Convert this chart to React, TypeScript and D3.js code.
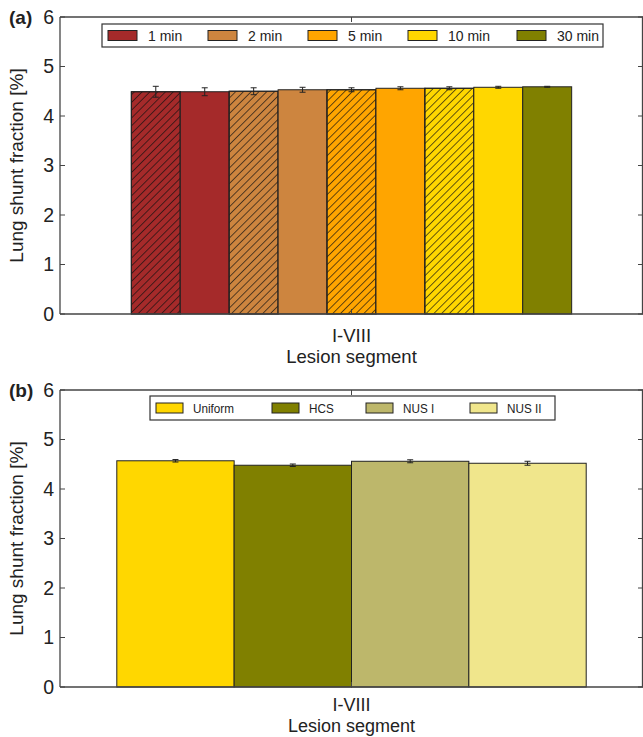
import React from "react";
import * as d3 from "d3";

// ---------- data ----------
const category = "I-VIII";
const yTicks = [0, 1, 2, 3, 4, 5, 6];

// panel (a)
const timeLabels = ["1 min", "2 min", "5 min", "10 min", "30 min"];
const timeColors = ["#A52A2A", "#CD853F", "#FFA500", "#FFD700", "#808000"];
const aSeries = ["1 min", "1 min", "2 min", "2 min", "5 min", "5 min", "10 min", "10 min", "30 min"];
const aHatched = [true, false, true, false, true, false, true, false, false];
const aValues = [4.49, 4.49, 4.5, 4.53, 4.53, 4.56, 4.56, 4.58, 4.59];
const aErrors = [0.11, 0.08, 0.07, 0.05, 0.04, 0.03, 0.03, 0.02, 0.01];

// panel (b)
const distLabels = ["Uniform", "HCS", "NUS I", "NUS II"];
const distColors = ["#FFD700", "#808000", "#BDB76B", "#F0E68C"];
const bValues = [4.57, 4.48, 4.56, 4.52];
const bErrors = [0.025, 0.025, 0.03, 0.04];

// ---------- layout ----------
const W = 643;
const H = 737;
const LEFT = 60;
const RIGHT = 643;
const FONT = "Liberation Sans, Arial, Helvetica, sans-serif";
const AXIS = "#444";
const TXT = "#222";

type PanelProps = {
  tag: string;
  top: number;
  bottom: number;
  outerPad: number;
  colors: string[];
  hatched: boolean[];
  values: number[];
  errors: number[];
  legendLabels: string[];
  legendColors: string[];
  legendBox: [number, number, number, number];
  legendX: number[];
  patchW: number;
  textOff: number;
  legendFont: number;
  legendStretch: boolean;
  tickOff: number;
  titleOff: number;
  xFont: number;
};

function Panel(p: PanelProps) {
  const y = d3.scaleLinear().domain([0, 6]).range([p.bottom, p.top]);
  const x0 = d3
    .scaleBand<string>()
    .domain([category])
    .range([LEFT, RIGHT])
    .paddingInner(0)
    .paddingOuter(p.outerPad);
  const idx = p.values.map((_, i) => String(i));
  const x1 = d3
    .scaleBand<string>()
    .domain(idx)
    .range([x0(category)!, x0(category)! + x0.bandwidth()]);
  const cx = x0(category)! + x0.bandwidth() / 2;
  const [lx0, ly0, lx1, ly1] = p.legendBox;
  const lyMid = (ly0 + ly1) / 2;
  const midY = (p.top + p.bottom) / 2;

  return (
    <g>
      {p.values.map((v, i) => {
        const bx = x1(String(i))!;
        const bw = x1.bandwidth();
        return (
          <g key={i}>
            <rect x={bx} y={y(v)} width={bw} height={y(0) - y(v)} fill={p.colors[i]} stroke="#222" strokeWidth={1} />
            {p.hatched[i] && (
              <rect x={bx} y={y(v)} width={bw} height={y(0) - y(v)} fill="url(#hatch)" stroke="#222" strokeWidth={1} />
            )}
          </g>
        );
      })}
      {p.values.map((v, i) => {
        const ex = x1(String(i))! + x1.bandwidth() / 2;
        const e = p.errors[i];
        return (
          <g key={"e" + i} stroke="#222" strokeWidth={1}>
            <line x1={ex} x2={ex} y1={y(v + e)} y2={y(v - e)} />
            <line x1={ex - 3} x2={ex + 3} y1={y(v + e)} y2={y(v + e)} />
            <line x1={ex - 3} x2={ex + 3} y1={y(v - e)} y2={y(v - e)} />
          </g>
        );
      })}
      <g stroke={AXIS} strokeWidth={1.3} fill="none">
        <line x1={LEFT} x2={LEFT} y1={p.top} y2={p.bottom} />
        <line x1={LEFT} x2={RIGHT} y1={p.top} y2={p.top} />
        <line x1={LEFT} x2={RIGHT} y1={p.bottom} y2={p.bottom} />
        <line x1={RIGHT - 0.5} x2={RIGHT - 0.5} y1={p.top} y2={p.bottom} />
      </g>
      {yTicks.map((t) => (
        <g key={t}>
          <line x1={LEFT} x2={LEFT + 5} y1={y(t)} y2={y(t)} stroke={AXIS} strokeWidth={1} />
          <line x1={RIGHT - 5} x2={RIGHT} y1={y(t)} y2={y(t)} stroke={AXIS} strokeWidth={1} />
          <text x={LEFT - 6} y={y(t)} dy="0.35em" textAnchor="end" fontSize={19.5} fontFamily={FONT} fill={TXT}>
            {t}
          </text>
        </g>
      ))}
      <line x1={cx} x2={cx} y1={p.bottom} y2={p.bottom - 5} stroke={AXIS} strokeWidth={1} />
      <line x1={cx} x2={cx} y1={p.top} y2={p.top + 5} stroke={AXIS} strokeWidth={1} />
      <text x={cx} y={p.bottom + p.tickOff} textAnchor="middle" fontSize={p.xFont} fontFamily={FONT} fill={TXT}>
        {category}
      </text>
      <text x={cx} y={p.bottom + p.titleOff} textAnchor="middle" fontSize={p.xFont} fontFamily={FONT} fill={TXT}>
        Lesion segment
      </text>
      <text
        transform={`translate(23,${midY}) rotate(-90)`}
        textAnchor="middle"
        fontSize={19}
        fontFamily={FONT}
        fill={TXT}
      >
        Lung shunt fraction [%]
      </text>
      <text x={9} y={p.top + 7} fontSize={19} fontWeight="bold" fontFamily={FONT} fill={TXT}>
        {p.tag}
      </text>
      <rect x={lx0} y={ly0} width={lx1 - lx0} height={ly1 - ly0} fill="#fff" stroke="#333" strokeWidth={1.2} />
      {p.legendLabels.map((l, i) => (
        <g key={l}>
          <rect
            x={p.legendX[i]}
            y={lyMid - 5}
            width={p.patchW}
            height={10}
            fill={p.legendColors[i]}
            stroke="#222"
            strokeWidth={1}
          />
          <text
            x={p.legendX[i] + p.textOff}
            y={lyMid}
            dy="0.36em"
            fontSize={p.legendFont}
            fontFamily={FONT}
            fill={TXT}
            transform={p.legendStretch ? `translate(${(p.legendX[i] + p.textOff) * 0.1},0) scale(0.9,1)` : undefined}
          >
            {l}
          </text>
        </g>
      ))}
    </g>
  );
}

export default function App() {
  return (
    <svg
      width={W}
      height={H}
      viewBox={`0 0 ${W} ${H}`}
      style={{ position: "absolute", left: 0, top: 0, background: "#fff", display: "block" }}
    >
      <defs>
        <pattern id="hatch" patternUnits="userSpaceOnUse" width={5.5} height={5.5} patternTransform="rotate(45)">
          <line x1={0} y1={0} x2={0} y2={5.5} stroke="#111" strokeWidth={1.3} />
        </pattern>
      </defs>
      <rect x={0} y={0} width={W} height={H} fill="#fff" />
      <Panel
        tag="(a)"
        top={17}
        bottom={314}
        outerPad={0.162}
        colors={aSeries.map((s) => timeColors[timeLabels.indexOf(s)])}
        hatched={aHatched}
        values={aValues}
        errors={aErrors}
        legendLabels={timeLabels}
        legendColors={timeColors}
        legendBox={[102, 24, 603, 47]}
        legendX={[108, 208, 308, 408, 517]}
        patchW={29}
        textOff={40}
        legendFont={14}
        legendStretch={false}
        tickOff={28}
        titleOff={49}
        xFont={18.5}
      />
      <Panel
        tag="(b)"
        top={390}
        bottom={687}
        outerPad={0.121}
        colors={distColors}
        hatched={distLabels.map(() => false)}
        values={bValues}
        errors={bErrors}
        legendLabels={distLabels}
        legendColors={distColors}
        legendBox={[150, 396, 555, 420]}
        legendX={[156, 272, 366, 470]}
        patchW={27}
        textOff={37}
        legendFont={13}
        legendStretch={true}
        tickOff={24}
        titleOff={45}
        xFont={18}
      />
    </svg>
  );
}
